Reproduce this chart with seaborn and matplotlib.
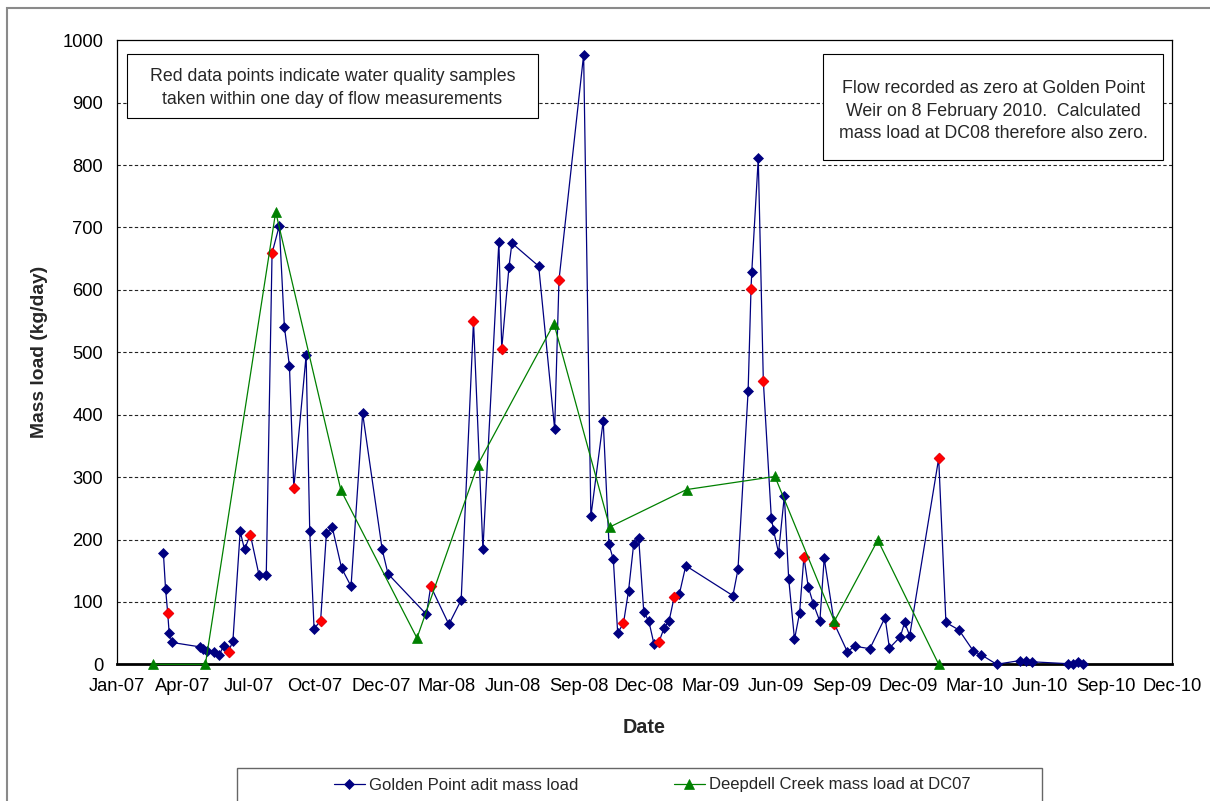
import matplotlib
matplotlib.use("Agg")
import matplotlib.pyplot as plt
import matplotlib.dates as mdates
from matplotlib.patches import Rectangle
import numpy as np
import pandas as pd
import seaborn as sns

# ---------------- data ----------------
gp_dates = [
    "2007-03-06", "2007-03-09", "2007-03-12", "2007-03-14", "2007-03-18",
    "2007-04-25", "2007-04-29", "2007-05-05", "2007-05-15", "2007-05-22",
    "2007-05-28", "2007-06-04", "2007-06-10", "2007-06-20", "2007-06-26",
    "2007-07-04", "2007-07-16", "2007-07-26", "2007-08-03", "2007-08-13",
    "2007-08-20", "2007-08-27", "2007-09-02", "2007-09-19", "2007-09-24",
    "2007-09-30", "2007-10-09", "2007-10-17", "2007-10-25", "2007-11-07",
    "2007-11-20", "2007-12-06", "2008-01-02", "2008-01-10", "2008-03-03",
    "2008-03-09", "2008-04-03", "2008-04-20", "2008-05-07", "2008-05-20",
    "2008-06-11", "2008-06-15", "2008-06-25", "2008-06-29", "2008-08-05",
    "2008-08-27", "2008-09-02", "2008-10-06", "2008-10-16", "2008-11-02",
    "2008-11-10", "2008-11-16", "2008-11-22", "2008-11-30", "2008-12-07",
    "2008-12-14", "2008-12-21", "2008-12-28", "2009-01-04", "2009-01-11",
    "2009-01-18", "2009-01-25", "2009-02-01", "2009-02-08", "2009-02-15",
    "2009-02-24", "2009-04-30", "2009-05-07", "2009-05-21", "2009-05-25",
    "2009-05-26", "2009-06-04", "2009-06-11", "2009-06-22", "2009-06-25",
    "2009-07-02", "2009-07-10", "2009-07-16", "2009-07-24", "2009-07-31",
    "2009-08-06", "2009-08-12", "2009-08-19", "2009-08-28", "2009-09-03",
    "2009-09-17", "2009-10-05", "2009-10-15", "2009-11-05", "2009-11-26",
    "2009-12-02", "2009-12-17", "2009-12-23", "2009-12-30", "2010-02-08",
    "2010-02-18", "2010-03-08", "2010-03-28", "2010-04-08", "2010-04-29",
    "2010-05-31", "2010-06-08", "2010-06-17", "2010-08-05", "2010-08-12",
    "2010-08-19", "2010-08-26",
]
gp_load = [
    179, 121, 82, 50, 35,
    28, 25, 22, 20, 15,
    29, 20, 38, 213, 184,
    208, 143, 143, 659, 703,
    541, 478, 283, 495, 213,
    57, 70, 210, 220, 154,
    125, 402, 184, 145, 80,
    125, 64, 103, 550, 184,
    677, 506, 637, 675, 638,
    377, 616, 977, 237, 390,
    192, 168, 50, 66, 118,
    192, 202, 84, 69, 33,
    36, 58, 70, 108, 112,
    158, 110, 152, 438, 602,
    628, 811, 454, 235, 215,
    179, 270, 137, 40, 82,
    172, 124, 97, 69, 170,
    65, 20, 29, 25, 75,
    26, 44, 67, 46, 330,
    67, 55, 21, 15, 0,
    6, 6, 4, 1, 1,
    4, 1,
]
# 1 = water quality sample taken within one day of flow measurement (red)
gp_sample = [
    0, 0, 1, 0, 0,
    0, 0, 0, 0, 0,
    0, 1, 0, 0, 0,
    1, 0, 0, 1, 0,
    0, 0, 1, 0, 0,
    0, 1, 0, 0, 0,
    0, 0, 0, 0, 0,
    1, 0, 0, 1, 0,
    0, 1, 0, 0, 0,
    0, 1, 0, 0, 0,
    0, 0, 0, 1, 0,
    0, 0, 0, 0, 0,
    1, 0, 0, 1, 0,
    0, 0, 0, 0, 1,
    0, 0, 1, 0, 0,
    0, 0, 0, 0, 0,
    1, 0, 0, 0, 0,
    1, 0, 0, 0, 0,
    0, 0, 0, 0, 1,
    0, 0, 0, 0, 0,
    0, 0, 0, 0, 0,
    0, 0,
]
dc_dates = [
    "2007-02-19", "2007-05-03", "2007-08-08", "2007-11-06", "2008-02-19",
    "2008-05-13", "2008-08-26", "2008-11-11", "2009-02-25", "2009-06-27",
    "2009-09-17", "2009-11-16", "2010-02-08",
]
dc_load = [0, 0, 725, 279, 42, 320, 546, 220, 280, 301, 69, 199, 0]

series_names = ["Golden Point adit mass load", "Deepdell Creek mass load at DC07"]
x_title = "Date"
y_title = "Mass load (kg/day)"
note_left = "Red data points indicate water quality samples\ntaken within one day of flow measurements"
note_right = ("Flow recorded as zero at Golden Point\n"
              "Weir on 8 February 2010.  Calculated\n"
              "mass load at DC08 therefore also zero.")
tick_start = "2007-01-01"
tick_step_days = 91
n_ticks = 17
y_ticks = list(range(0, 1001, 100))

# ---------------- frames ----------------
gp = pd.DataFrame({"date": pd.to_datetime(gp_dates), "load": gp_load, "sample": gp_sample})
dc = pd.DataFrame({"date": pd.to_datetime(dc_dates), "load": dc_load})
gp_red = gp[gp["sample"] == 1]

sns.set_style("white")
plt.rcParams["font.family"] = ["Liberation Sans", "DejaVu Sans"]

W, H = 1210, 801
fig = plt.figure(figsize=(W / 100, H / 100), dpi=100)
fig.patch.set_facecolor("white")

ax_l, ax_r, ax_t, ax_b = 117, 1172, 40.3, 664.3
ax = fig.add_axes([ax_l / W, 1 - ax_b / H, (ax_r - ax_l) / W, (ax_b - ax_t) / H])
ax.set_facecolor("white")

navy = "#000080"
green = "#008000"
red = "#FF0000"

sns.lineplot(data=gp, x="date", y="load", ax=ax, color=navy, lw=0.9,
             marker="D", markersize=4.6, markeredgecolor=navy, markerfacecolor=navy,
             markeredgewidth=0.5, label=series_names[0], zorder=3,
             estimator=None, sort=False, clip_on=False)
sns.scatterplot(data=gp_red, x="date", y="load", ax=ax, color=red, marker="D",
                s=30, edgecolor=red, linewidth=0.5, zorder=4, legend=False, clip_on=False)
sns.lineplot(data=dc, x="date", y="load", ax=ax, color=green, lw=0.9,
             marker="^", markersize=7, markeredgecolor=green, markerfacecolor=green,
             markeredgewidth=0.5, label=series_names[1], zorder=5,
             estimator=None, sort=False, clip_on=False)

# axes ranges
t0 = pd.Timestamp(tick_start)
ticks = [t0 + pd.Timedelta(days=tick_step_days * k) for k in range(n_ticks)]
ax.set_xlim(mdates.date2num(ticks[0]), mdates.date2num(ticks[-1]))
ax.set_ylim(0, 1000)
ax.set_xticks([mdates.date2num(t) for t in ticks])
ax.xaxis.set_major_formatter(mdates.DateFormatter("%b-%y"))
ax.set_yticks(y_ticks)

ax.tick_params(axis="both", labelsize=13.2, colors="black", direction="out")
ax.tick_params(axis="y", length=7, width=0.8, pad=3)
ax.tick_params(axis="x", length=5, width=0.8, pad=5)

# grid
for v in y_ticks[1:-1]:
    ax.axhline(v, color="#222222", lw=0.8, ls=(0, (3.0, 2.2)), zorder=1)

for side in ["top", "right", "left"]:
    ax.spines[side].set_visible(True)
    ax.spines[side].set_color("black")
    ax.spines[side].set_linewidth(0.9)
ax.spines["bottom"].set_color("black")
ax.spines["bottom"].set_linewidth(2.0)

ax.set_xlabel(x_title, fontsize=14.2, fontweight="bold")
ax.set_ylabel(y_title, fontsize=13.9, fontweight="bold")
ax.xaxis.set_label_coords(0.5, -(718 - ax_b) / (ax_b - ax_t))
ax.yaxis.set_label_coords(-(117 - 48) / (ax_r - ax_l), 0.5)

ax.get_legend().remove()

# note boxes (figure pixel coords)
def px_rect(x0, y0, x1, y1, **kw):
    return Rectangle((x0 / W, 1 - y1 / H), (x1 - x0) / W, (y1 - y0) / H,
                     transform=fig.transFigure, **kw)

fig.patches.append(px_rect(127, 54, 538, 118, facecolor="white", edgecolor="black", lw=0.8, zorder=6))
fig.text(332.5 / W, 1 - 88 / H, note_left, ha="center", va="center", fontsize=12.8,
         linespacing=1.4, zorder=7)
fig.patches.append(px_rect(823, 54, 1163, 160, facecolor="white", edgecolor="black", lw=0.8, zorder=6))
fig.text(993.5 / W, 1 - 111 / H, note_right, ha="center", va="center", fontsize=12.8,
         linespacing=1.4, zorder=7)

# outer chart frame
fig.patches.append(px_rect(7, 8, 1300, 900, facecolor="none", edgecolor="#8a8a8a", lw=1.5, zorder=0))

# legend box and legend
fig.patches.append(px_rect(236.5, 768, 1042, 900, facecolor="white", edgecolor="#666666", lw=1.0, zorder=1))
handles, labels = ax.get_legend_handles_labels()
leg = fig.legend(handles, labels, loc="center left", bbox_to_anchor=(334 / W, 1 - 785 / H),
                 ncol=2, frameon=False, fontsize=12, borderpad=0, borderaxespad=0,
                 handlelength=1.85, handletextpad=0.25, columnspacing=5.72, numpoints=1)

fig.savefig("out.png", dpi=100, facecolor="white")
